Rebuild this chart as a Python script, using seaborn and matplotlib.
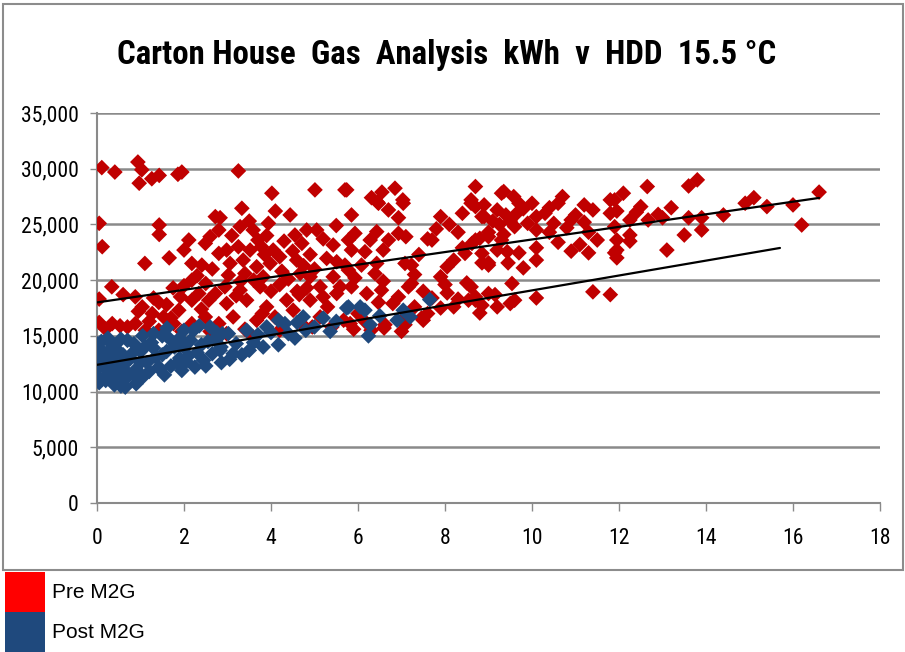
import numpy as np
import pandas as pd
import matplotlib.pyplot as plt
import seaborn as sns
from matplotlib import font_manager as fm
from matplotlib.patches import Rectangle
from matplotlib.ticker import FuncFormatter

# (HDD, kWh)
pre_points = [
    (0.11, 30100), (0.41, 29700), (0.94, 30600), (1.03, 29900), (0.97, 28700),
    (1.26, 29100), (1.43, 29400), (1.86, 29500), (1.95, 29700), (3.25, 29800),
    (0.05, 25100), (1.43, 24950), (1.43, 24100), (0.12, 23000), (1.10, 21500),
    (1.66, 22000), (0.34, 19400), (0.05, 18300), (0.05, 16200), (0.35, 16100),
    (0.53, 15900), (0.88, 18500), (1.04, 17600), (1.27, 17000), (1.42, 18000),
    (1.53, 16700), (1.88, 17300), (1.92, 18500), (2.18, 18200), (2.34, 18800),
    (2.57, 18200), (2.72, 18800), (1.76, 16100), (2.18, 16100), (2.49, 16700),
    (2.80, 16100), (0.88, 16100), (1.11, 15500), (1.42, 15500), (1.95, 15400),
    (2.60, 15400), (0.70, 15800), (1.20, 16300), (1.60, 17800), (2.00, 19500),
    (2.30, 20400), (2.50, 19700), (2.65, 21000), (2.72, 25700), (2.80, 24500),
    (2.60, 23900), (2.49, 23300), (2.11, 23600), (2.00, 22700), (2.18, 21500),
    (2.41, 21350), (2.80, 22400), (2.18, 20000), (1.75, 19300), (0.60, 18700),
    (0.20, 15600), (1.30, 18400), (1.70, 16600), (2.40, 17400), (0.95, 17200),
    (4.02, 27800), (5.01, 28100), (5.70, 28100), (3.33, 26450), (4.44, 25850),
    (3.94, 25100), (2.83, 25600), (3.29, 24800), (3.59, 24500), (4.55, 24050),
    (4.82, 24500), (5.05, 24500), (4.71, 23300), (5.43, 23150), (5.78, 23600),
    (2.98, 22700), (3.25, 23000), (3.52, 22700), (3.78, 23000), (4.05, 22700),
    (4.20, 22100), (3.06, 21500), (3.36, 21800), (3.67, 21200), (3.98, 21500),
    (4.59, 21800), (5.28, 21950), (5.51, 21650), (3.02, 20450), (3.40, 20600),
    (3.82, 20300), (4.67, 20600), (4.90, 20300), (5.43, 20300), (2.94, 19400),
    (3.29, 19100), (3.75, 19400), (4.20, 19600), (4.82, 19300), (5.13, 19400),
    (5.59, 19400), (2.98, 17900), (3.44, 18200), (3.90, 17600), (4.36, 18200),
    (4.90, 18200), (5.20, 18500), (5.51, 18800), (3.13, 16700), (3.67, 16400),
    (4.09, 16700), (4.51, 17300), (5.13, 16700), (5.67, 16400), (2.98, 15200),
    (3.59, 14900), (3.50, 25300), (3.10, 24000), (3.90, 24000), (4.30, 23500),
    (4.10, 26200), (3.70, 23600), (4.50, 22600), (4.90, 22300), (5.20, 23700),
    (5.50, 24900), (3.30, 19900), (4.00, 19000), (4.40, 20100), (5.00, 21000),
    (5.30, 17600), (4.70, 16100), (4.20, 15500), (3.40, 15600), (5.40, 15800),
    (5.90, 15600), (4.60, 19000), (3.80, 17000), (4.95, 15800), (3.20, 18600),
    (3.60, 20000), (4.25, 20800), (4.75, 21300), (3.85, 22300), (4.65, 18700),
    (5.74, 28100), (6.31, 27400), (6.55, 27900), (6.85, 28250), (7.04, 26900),
    (6.47, 26900), (6.70, 26300), (6.93, 25600), (5.85, 25850), (8.85, 25700),
    (9.10, 25300), (9.25, 25000), (9.35, 24100), (9.58, 27500), (9.65, 26000),
    (5.93, 24200), (6.43, 24350), (6.28, 23600), (6.70, 23600), (6.93, 24200),
    (7.10, 23900), (5.85, 22700), (6.16, 22550), (6.58, 22700), (8.62, 23300),
    (8.80, 23750), (9.00, 23900), (8.46, 22400), (8.85, 22400), (9.00, 21350),
    (9.43, 22550), (5.70, 21350), (6.08, 21350), (5.78, 20900), (6.43, 21500),
    (7.08, 21500), (7.23, 21350), (5.93, 20200), (6.39, 20600), (6.58, 19900),
    (7.23, 19700), (5.85, 19400), (6.20, 18800), (6.54, 19100), (6.93, 18500),
    (7.16, 19400), (9.54, 19700), (9.00, 18800), (8.54, 18200), (8.85, 17750),
    (9.20, 17600), (9.50, 17900), (9.60, 18200), (5.82, 16100), (6.16, 16300),
    (6.62, 16000), (7.08, 16000), (7.46, 16600), (7.60, 17000), (7.08, 16700),
    (6.47, 18000), (6.80, 17900), (6.45, 27000), (7.03, 27200), (7.90, 25700),
    (8.10, 25000), (8.05, 21200), (8.50, 19750), (8.70, 26600), (7.70, 18400),
    (8.05, 18850), (7.50, 16400), (8.20, 17600), (8.70, 18200), (7.70, 23600),
    (7.60, 23700), (7.40, 22300), (7.80, 24600), (8.30, 24300), (8.40, 22900),
    (7.30, 20500), (7.90, 20300), (8.20, 21800), (7.50, 19000), (8.00, 19600),
    (8.30, 18300), (7.90, 17500), (7.30, 17600), (6.00, 17000), (6.60, 15700),
    (7.00, 15400), (6.30, 15500), (8.40, 26000), (8.60, 27200),
    (8.70, 28400), (8.60, 26900), (8.90, 26750), (8.90, 25700), (9.30, 27800),
    (9.35, 27950), (9.20, 26300), (9.40, 25850), (9.00, 24300), (9.60, 24800),
    (9.70, 26900), (10.0, 26900), (10.1, 25700), (9.90, 25100), (10.1, 24500),
    (10.4, 26500), (10.7, 27500), (10.6, 26900), (10.5, 25100), (10.4, 24300),
    (10.9, 25400), (11.0, 25850), (11.2, 26750), (11.4, 26300), (11.2, 25200),
    (11.3, 24300), (11.5, 23600), (11.8, 27200), (11.8, 26000), (11.9, 24800),
    (11.95, 23600), (11.9, 22450), (11.3, 22450), (8.70, 23600), (9.20, 22700),
    (9.30, 23600), (10.1, 22900), (9.70, 22450), (10.1, 21800), (8.85, 21550),
    (9.00, 21550), (9.45, 21550), (9.80, 21100), (8.60, 19400), (8.70, 18500),
    (9.15, 18700), (8.80, 17050), (10.1, 18400), (11.4, 18950), (11.8, 18700),
    (9.80, 26400), (10.3, 26000), (10.8, 24700), (9.50, 25300), (10.6, 23400),
    (11.1, 23200), (10.9, 22600),
    (12.1, 27800), (12.65, 28400), (12.5, 26600), (12.25, 25400), (12.67, 25400),
    (13.0, 25600), (13.2, 26500), (13.6, 28450), (13.8, 29000), (13.6, 25600),
    (13.9, 25600), (13.5, 24050), (13.9, 24500), (13.1, 22700), (14.4, 25850),
    (14.9, 26900), (15.1, 27400), (15.4, 26600), (16.0, 26750), (16.2, 24950),
    (16.6, 27900), (11.9, 27200), (11.95, 26200), (12.25, 24050), (12.25, 23500),
    (11.95, 22700), (11.95, 22000), (12.4, 26100), (12.9, 25900),
]

post_points = [
    (0.00, 13500), (0.00, 12700), (0.00, 12000), (0.00, 11400), (0.05, 10800),
    (0.05, 13900), (0.15, 12300), (0.20, 11000), (0.30, 13100), (0.35, 14200),
    (0.40, 12200), (0.45, 11500), (0.55, 14700), (0.60, 13300), (0.65, 10400),
    (0.70, 11700), (0.75, 12900), (0.85, 14300), (0.90, 12000), (1.00, 13600),
    (1.05, 11300), (1.15, 12600), (1.25, 14400), (1.35, 13100), (1.45, 12000),
    (1.50, 15000), (1.60, 13600), (1.70, 12300), (1.80, 14300), (1.90, 13000),
    (2.00, 15500), (2.05, 12700), (2.15, 14600), (2.30, 13500), (2.35, 15900),
    (2.45, 12800), (2.55, 14500), (2.65, 13400), (2.75, 15300), (2.85, 14000),
    (0.25, 14800), (0.10, 14500), (1.30, 15200), (0.50, 12000), (1.95, 11900),
    (2.50, 12300), (1.61, 15700), (2.22, 15500), (2.88, 15200), (1.78, 14000),
    (1.42, 12200), (0.65, 11100), (0.12, 11100), (0.20, 12800), (0.50, 13600),
    (0.80, 13400), (1.10, 14000), (1.20, 11800), (0.30, 11700), (0.90, 10700),
    (0.40, 10600), (0.10, 12400), (0.70, 14600), (1.90, 14800), (2.60, 15800),
    (2.10, 13200), (1.55, 11500), (0.25, 13600), (0.00, 14300), (0.15, 13300),
    (0.45, 13000), (0.60, 12400), (0.85, 11500), (1.00, 12600), (1.30, 13900),
    (1.65, 14800), (2.00, 14000), (2.25, 12200), (2.40, 14200), (0.35, 10900),
    (0.55, 10500), (1.05, 15000), (1.50, 13300), (1.85, 12600), (2.70, 14700),
    (3.02, 15200), (3.44, 15500), (2.83, 13700), (3.13, 13400), (3.33, 13300),
    (3.82, 14000), (4.17, 14200), (3.90, 15800), (4.17, 16400), (4.32, 16100),
    (4.55, 14800), (4.74, 16700), (5.36, 15400), (5.74, 17500), (2.86, 12600),
    (3.60, 14400), (4.00, 15300), (3.20, 14300), (5.00, 15800), (5.50, 16300),
    (5.78, 17600), (6.05, 17600), (6.16, 17300), (6.28, 16000), (6.24, 15000),
    (6.90, 16400), (7.04, 17300), (7.20, 16700), (7.65, 18250), (4.40, 15200),
    (5.20, 16600), (3.05, 12900), (4.60, 16200), (6.50, 16800), (3.50, 13700),
    (3.70, 15100), (4.80, 15500),
]

# trend lines as shown on the chart: intercept (kWh), slope (kWh per HDD), last HDD
pre_trend = (18000, 565, 16.6)
post_trend = (12400, 668, 15.7)

series_names = ["Pre M2G", "Post M2G"]
marker_colors = ["#C00000", "#1F497D"]
legend_colors = ["#FF0000", "#1F497D"]
x_ticks = [0, 2, 4, 6, 8, 10, 12, 14, 16, 18]
y_ticks = [0, 5000, 10000, 15000, 20000, 25000, 30000, 35000]
title = "Carton House  Gas  Analysis  kWh  v  HDD  15.5 °C"

sns.set_style("white")

# the chart uses a condensed face: take the narrowest one that is installed
available = {f.name for f in fm.fontManager.ttflist}
narrow = next((n for n in ["Liberation Sans Narrow", "DejaVu Sans Condensed",
                           "Roboto Condensed", "Noto Sans Condensed",
                           "Liberation Sans", "Roboto"] if n in available),
              "DejaVu Sans")
plt.rcParams['font.family'] = [narrow, 'DejaVu Sans']
plt.rcParams['text.color'] = 'black'
plt.rcParams['xtick.labelcolor'] = 'black'
plt.rcParams['ytick.labelcolor'] = 'black'

pre_df = pd.DataFrame(pre_points, columns=["hdd", "kwh"])
pre_df["series"] = series_names[0]
post_df = pd.DataFrame(post_points, columns=["hdd", "kwh"])
post_df["series"] = series_names[1]
df = pd.concat([pre_df, post_df], ignore_index=True)

fig = plt.figure(figsize=(9.05, 6.52), dpi=100)
ax = fig.add_axes([97 / 905, 1 - 503 / 652, (880 - 97) / 905, (503 - 113) / 652])

sns.scatterplot(data=df, x="hdd", y="kwh", hue="series",
                palette=dict(zip(series_names, marker_colors)),
                marker="D", s=64, linewidth=0, legend=False, ax=ax, zorder=3)

for a, b, end in [pre_trend, post_trend]:
    xs = np.array([0, end])
    sns.lineplot(x=xs, y=a + b * xs, color="black", lw=1.6, ax=ax, zorder=4)

# size texts so that their widths match the original
renderer = fig.canvas.get_renderer()


def fit_size(text, target_px, base=20, **kw):
    t = fig.text(0, 0, text, fontsize=base, **kw)
    w = t.get_window_extent(renderer).width
    t.remove()
    return base * target_px / w


tick_size = min(16, fit_size("35,000", 58))

grid_col = "#8a8a8a"
ax.set_xlim(0, 18)
ax.set_ylim(0, 35000)
ax.set_xticks(x_ticks)
ax.set_yticks(y_ticks)
ax.yaxis.set_major_formatter(FuncFormatter(lambda v, p: f"{int(v):,}"))
ax.grid(axis="y", color=grid_col, lw=1.8)
ax.grid(axis="x", visible=False)
ax.set_axisbelow(True)
for side in ["top", "right"]:
    ax.spines[side].set_visible(False)
for side in ["left", "bottom"]:
    ax.spines[side].set_color(grid_col)
    ax.spines[side].set_linewidth(1.5)
ax.tick_params(axis="x", direction="out", length=6, width=1, color=grid_col,
               labelsize=tick_size, labelcolor="black", pad=12, bottom=True)
ax.tick_params(axis="y", direction="out", length=5, width=1, color=grid_col,
               labelsize=tick_size, labelcolor="black", pad=8, left=True)
ax.set_xlabel("")
ax.set_ylabel("")

title_size = min(30, fit_size(title, 658, fontweight="bold"))
fig.text(0.493, 1 - 55 / 652, title, ha="center", va="center",
         fontsize=title_size, fontweight="bold", color="black")

# chart frame
fig.add_artist(Rectangle((3 / 905, 1 - 570 / 652), 900 / 905, 566 / 652,
                         transform=fig.transFigure, fill=False, ec="#8c8c8c", lw=1.5))

# legend blocks under the chart
for i, (name, col) in enumerate(zip(series_names, legend_colors)):
    top = 572 + i * 40
    fig.add_artist(Rectangle((5 / 905, 1 - (top + 40) / 652), 40 / 905, 40 / 652,
                             transform=fig.transFigure, fc=col, ec="none"))
    fig.text(52 / 905, 1 - (top + 20) / 652, name, ha="left", va="center",
             fontsize=15, color="black", family=["Liberation Sans", "DejaVu Sans"])

fig.savefig("out.png", dpi=100)
